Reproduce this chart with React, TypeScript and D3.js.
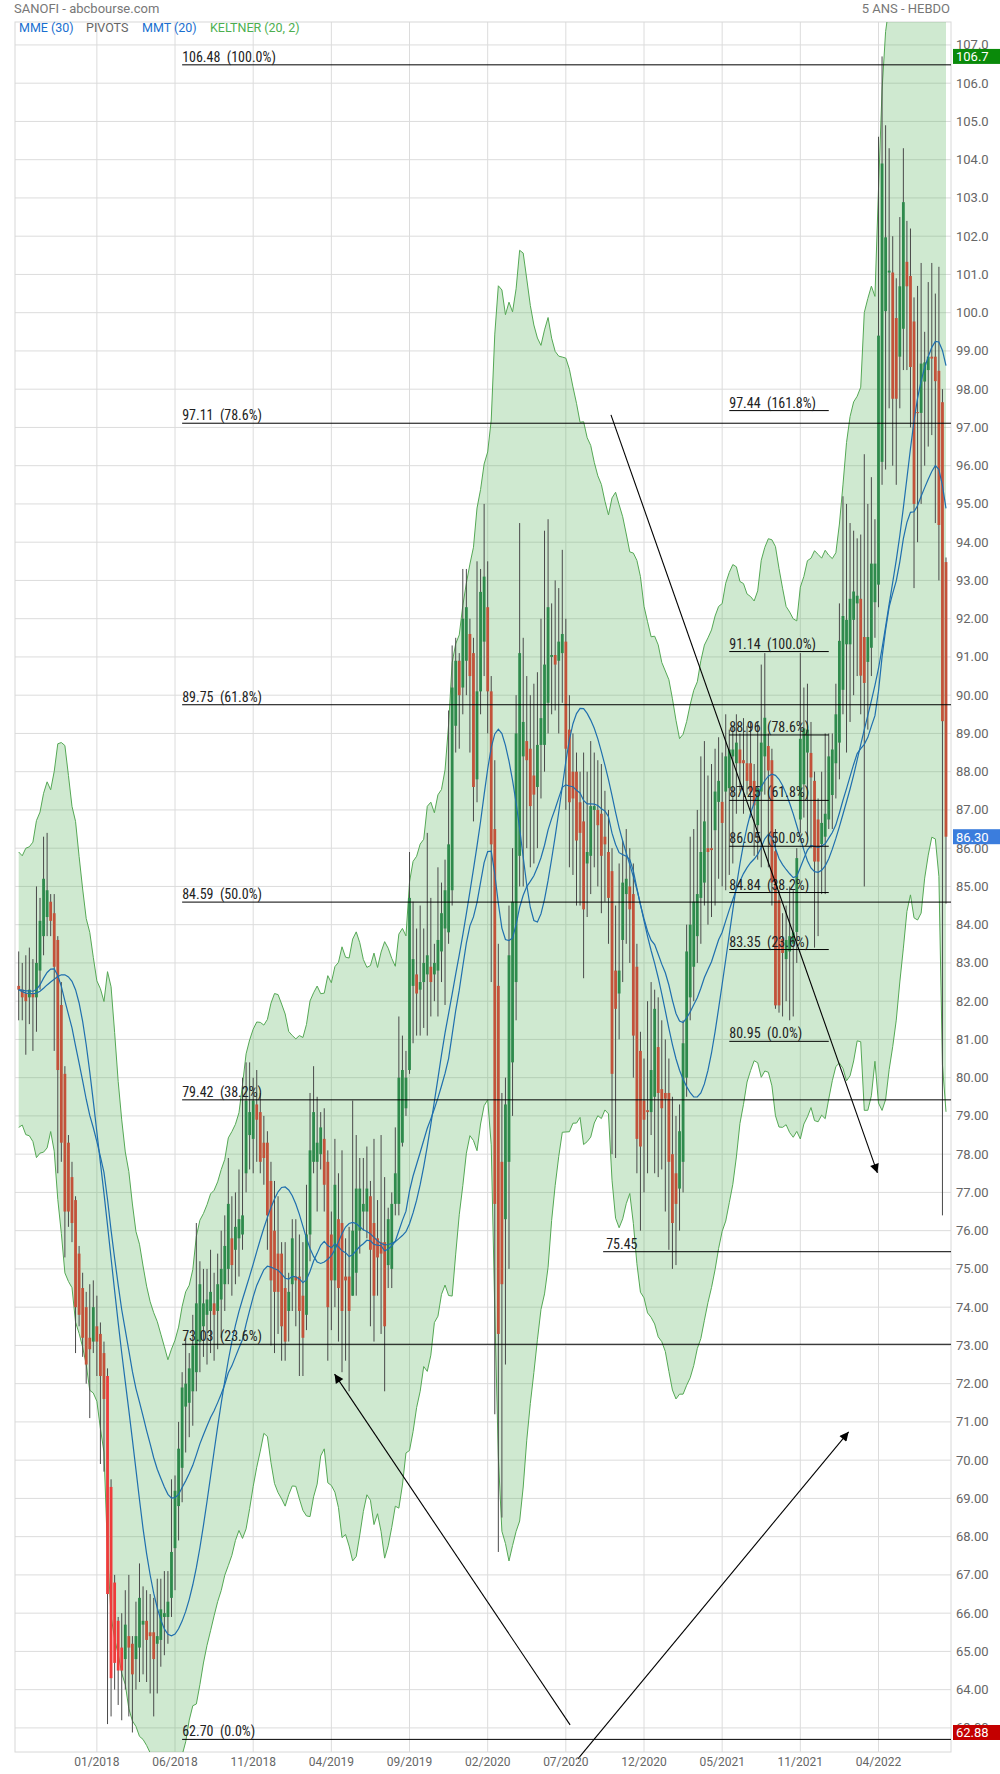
import React from 'react';
import * as d3 from 'd3';

const opens = [
82.4,82.3,82.2,82.1,82.2,82.1,82.8,83.7,84.2,84.6,
84.3,83.6,81.9,80.1,78.3,77.4,76.8,75.4,74.5,74.0,
73.2,73.1,73.5,73.3,72.8,72.2,69.3,66.8,65.8,65.1,
64.8,65.4,65.2,64.8,65.1,65.7,65.8,65.5,65.5,65.2,
65.3,65.9,65.9,66.4,67.7,68.8,69.8,71.4,71.5,71.8,
72.3,73.1,73.5,73.8,73.9,74.1,73.9,74.2,74.6,75.0,
75.8,75.5,75.8,75.9,77.5,78.5,78.4,79.3,79.1,78.3,
78.3,77.3,76.0,75.4,75.4,74.5,73.9,74.6,74.8,74.8,
74.3,73.8,75.9,77.8,77.8,78.0,78.4,77.8,75.9,74.7,
76.3,76.2,74.8,74.8,74.3,74.9,76.0,76.5,76.5,76.9,
76.2,75.8,75.7,75.7,75.1,75.0,76.7,76.7,78.3,79.2,
80.2,82.4,82.7,82.3,82.5,82.7,82.9,82.7,82.8,83.3,
83.9,83.8,84.9,89.2,90.9,90.2,90.9,91.6,91.1,87.8,
90.1,91.4,92.3,90.1,86.5,82.4,77.8,76.3,77.8,80.4,
82.5,85.8,88.4,88.8,88.6,87.9,87.6,88.7,88.7,89.8,
91.0,91.05,90.9,91.1,91.4,89.1,88.0,88.0,87.2,86.7,
85.6,85.8,87.0,87.0,86.9,86.3,85.9,85.4,82.8,82.2,
83.6,84.8,85.0,84.8,82.9,80.7,79.4,79.15,79.1,79.5,
80.8,79.7,79.6,79.6,78.0,77.5,77.1,77.8,80.0,82.1,
82.9,83.7,84.7,85.1,86.0,86.0,86.47,87.21,87.21,87.48,
87.57,88.4,88.22,88.58,88.3,88.22,88.22,87.76,86.6,87.48,
88.4,88.67,88.3,85.92,84.64,83.63,83.1,83.3,83.5,83.81,
86.75,87.67,88.5,88.49,87.76,86.75,86.11,86.3,86.75,87.39,
88.22,88.76,90.14,91.33,91.33,91.97,92.4,92.52,91.52,90.87,
91.24,92.43,92.89,96.1,100.04,101.05,101.05,99.86,98.85,99.58,
101.33,100.96,99.77,97.4,97.38,98.2,98.5,98.85,98.85,98.48,
97.66,93.48];

const highs = [
83.3,83.0,83.2,83.4,83.1,85.0,84.7,86.3,86.4,84.8,
84.8,83.7,82.5,80.3,78.5,77.8,76.9,75.6,74.9,74.4,
74.6,74.7,74.3,73.6,73.1,72.4,69.5,67.0,65.9,66.0,
66.6,67.0,65.4,66.3,67.3,66.7,66.6,66.5,66.4,66.9,
66.9,67.1,67.1,69.5,69.6,71.0,72.3,73.2,72.8,73.8,
76.2,75.2,75.0,75.0,75.5,74.9,75.4,76.0,76.4,77.9,
76.9,77.0,77.6,80.0,80.4,80.4,80.0,80.2,79.6,79.0,
78.6,77.8,77.3,76.9,75.7,75.7,74.9,76.3,76.3,75.9,
75.7,77.2,79.6,80.3,79.5,79.1,79.2,78.1,76.5,78.4,
77.5,78.1,75.8,76.1,79.4,78.5,77.9,77.9,78.2,77.3,
78.4,76.8,78.5,77.4,76.6,77.0,78.7,81.6,81.1,80.7,
85.9,84.6,83.9,84.5,83.9,86.4,84.7,83.5,85.5,85.1,
85.7,89.6,91.3,91.5,91.1,93.3,93.3,92.0,91.5,93.5,
93.3,95.0,93.5,90.5,88.3,83.5,79.6,80.0,84.5,86.0,
90.0,94.5,91.5,90.5,90.0,90.3,90.6,92.0,94.3,94.6,
92.4,93.0,92.8,93.8,92.0,90.0,89.0,88.5,88.0,88.5,
88.0,88.8,88.5,88.3,88.2,87.5,87.0,86.0,84.5,85.6,
86.2,86.5,86.0,85.6,83.5,81.2,80.5,82.0,82.5,82.3,
82.1,81.5,81.0,80.5,79.5,79.0,79.3,81.5,84.0,86.3,
86.5,87.0,88.4,88.8,87.9,88.2,88.6,88.9,88.5,89.5,
89.1,89.2,89.5,89.0,89.4,89.2,89.3,88.2,89.3,90.8,
91.1,89.0,88.6,86.5,84.9,84.3,84.5,85.0,84.9,86.0,
91.1,90.2,90.3,89.3,88.0,87.3,88.0,89.0,89.0,89.0,
90.3,92.4,95.2,95.0,94.5,94.3,94.1,94.2,96.3,95.0,
95.7,94.6,104.6,106.7,104.9,104.3,102.0,100.9,102.5,104.3,
102.4,102.2,100.4,100.7,101.3,99.5,100.8,101.3,100.5,101.2,
98.0,93.6];

const lows = [
81.5,81.5,80.6,81.4,80.7,81.2,82.3,83.2,83.7,83.7,
80.7,77.5,77.8,75.3,76.1,75.7,72.8,73.5,72.7,72.0,
71.1,72.8,72.2,69.9,69.7,63.1,63.3,64.0,63.6,63.2,
64.0,63.3,62.88,64.0,64.2,64.4,64.2,63.9,63.3,63.9,
64.6,64.9,65.2,65.9,66.6,67.9,68.9,70.2,70.6,70.9,
71.8,72.3,72.7,72.5,72.8,72.6,72.9,73.2,73.9,74.6,
74.3,74.6,74.8,75.5,77.0,77.6,77.5,77.8,77.5,77.2,
75.5,73.0,72.8,73.3,72.6,72.6,73.1,73.9,73.5,72.2,
72.2,73.4,75.2,77.5,76.5,77.6,76.5,72.6,73.4,74.0,
73.1,72.3,72.6,71.8,74.3,74.3,75.4,76.0,75.8,73.5,
73.1,74.3,73.3,71.8,74.5,74.5,76.4,76.4,78.2,79.0,
80.1,80.9,81.1,81.1,81.3,81.1,81.6,82.0,81.6,82.5,
81.9,83.5,84.5,88.5,88.6,89.5,90.0,88.5,86.7,87.2,
89.5,90.5,89.0,82.5,71.2,67.6,68.5,72.5,75.0,79.0,
81.5,85.0,85.0,86.0,85.5,85.6,86.0,87.3,88.0,89.0,
89.5,89.6,89.0,89.8,87.0,85.5,85.3,84.5,84.5,82.6,
84.2,84.8,85.5,85.0,84.3,84.6,83.5,78.0,77.9,81.0,
82.5,83.5,83.0,80.0,77.5,76.0,77.0,77.5,78.5,77.5,
77.4,77.6,76.5,75.5,75.0,75.1,76.0,77.0,79.5,81.5,
82.0,83.0,83.5,84.5,84.0,84.2,84.5,85.2,85.0,84.9,
85.3,85.6,86.9,87.5,86.9,87.4,86.8,85.8,85.7,85.5,
87.4,85.5,84.5,81.8,81.7,81.6,82.0,81.5,81.6,83.0,
86.4,86.8,86.3,86.0,83.4,83.7,84.8,84.8,86.5,86.5,
87.3,87.8,89.5,88.5,89.3,90.0,90.5,89.5,85.0,89.1,
90.5,91.5,92.3,95.5,95.9,97.5,96.0,95.5,97.5,98.5,
98.5,97.0,92.8,94.0,95.0,96.0,96.5,96.8,94.5,93.0,
76.4,84.55];

const closes = [
82.3,82.1,82.0,82.3,82.1,83.0,84.1,85.2,84.9,84.1,
82.9,80.2,78.3,76.5,76.5,76.2,74.0,73.8,73.2,72.5,
72.9,74.0,73.1,72.2,71.6,66.5,64.3,64.7,64.5,64.5,
65.7,65.1,64.4,65.4,66.4,65.8,65.3,65.4,64.8,65.4,
66.1,66.0,66.3,67.6,69.2,70.3,71.9,72.0,72.4,73.0,
74.1,74.6,74.1,74.2,74.4,73.8,74.6,75.0,75.6,76.7,
75.1,76.1,76.3,76.4,79.4,79.1,79.4,78.9,77.8,77.9,
76.4,74.7,74.4,74.4,73.5,73.1,74.4,75.8,74.7,73.9,
73.2,75.9,78.1,79.1,78.3,78.7,77.2,74.0,74.7,77.2,
74.5,73.9,74.7,73.9,76.0,77.1,77.1,76.7,77.1,75.5,
74.3,75.3,75.4,73.5,76.3,76.7,77.5,80.0,80.2,80.0,
84.7,83.1,82.2,82.5,83.0,83.2,82.5,83.0,83.6,84.3,
84.9,86.1,90.2,90.9,90.0,92.0,92.3,90.5,87.6,90.1,
92.7,93.1,90.1,86.1,76.7,73.3,74.6,79.3,83.2,84.6,
89.0,91.1,89.3,88.3,87.1,87.4,88.7,89.4,90.8,92.3,
91.05,90.8,91.4,91.6,88.6,87.2,87.3,86.2,86.4,84.4,
85.9,87.1,87.1,86.6,85.8,86.1,84.7,80.1,81.8,82.8,
85.1,85.2,84.4,81.1,78.4,78.2,78.9,79.1,80.2,81.8,
79.6,79.2,79.45,77.8,76.2,76.7,78.6,80.9,83.3,84.0,
84.6,84.8,85.9,86.7,85.9,85.95,87.48,87.76,86.66,88.4,
88.58,88.58,88.76,88.22,88.22,87.76,87.48,87.12,87.57,88.76,
89.41,88.03,85.1,81.89,81.89,83.26,83.6,83.7,83.8,85.74,
88.86,89.13,89.1,87.85,85.65,85.65,86.66,86.9,88.4,88.58,
89.5,91.42,92.07,91.97,92.52,92.71,92.6,90.51,90.32,91.52,
93.44,93.44,99.4,103.9,101.97,101.1,97.75,97.75,100.69,102.89,
100.69,98.58,95.0,97.38,98.67,98.7,98.85,98.8,98.21,94.45,
89.32,86.3];

// weeks whose red body is drawn in the brighter red of the reference
const brightRedWeeks = [25, 26, 27, 28, 29];

const priceTicks = [63,64,65,66,67,68,69,70,71,72,73,74,75,76,77,78,79,80,81,82,83,84,85,86,87,88,89,90,91,92,93,94,95,96,97,98,99,100,101,102,103,104,105,106,107];
const dateTickIndex = [22,44,66,88,110,132,154,176,198,220,242];
const dateTickLabels = ['01/2018','06/2018','11/2018','04/2019','09/2019','02/2020','07/2020','12/2020','05/2021','11/2021','04/2022'];

const fibMainLevels = [106.48,97.11,89.75,84.59,79.42,73.03,62.70];
const fibMainPct = ['100.0%','78.6%','61.8%','50.0%','38.2%','23.6%','0.0%'];
const fibMainStart = 46;
const fibSecLevels = [97.44,91.14,88.96,87.25,86.05,84.84,83.35,80.95];
const fibSecPct = ['161.8%','100.0%','78.6%','61.8%','50.0%','38.2%','23.6%','0.0%'];
const fibSecStart = 200;
const fibSecEnd = 228;
const pivotLevel = 75.45;
const pivotStart = 164.5;

const arrowStartIdx = [166.7,155.2,157.4];
const arrowStartVal = [97.33,63.08,62.19];
const arrowEndIdx = [241.7,88.9,233.6];
const arrowEndVal = [77.51,72.25,70.74];

const PL = 15, PR = 951, PT = 22, PB = 1752;

function ema(arr: number[], n: number) {
  const k = 2 / (n + 1);
  const out: number[] = [];
  arr.forEach((v, i) => out.push(i === 0 ? v : v * k + out[i - 1] * (1 - k)));
  return out;
}
function sma(arr: number[], n: number) {
  return arr.map((_, i) => d3.mean(arr.slice(Math.max(0, i - n + 1), i + 1)) as number);
}

export default function App() {
  const N = closes.length;
  const x = d3.scaleLinear().domain([0, N - 1]).range([18.7, 946]);
  const y = d3.scaleLinear().domain([62.37, 107.6]).range([PB, PT]);

  // MME(30) = EMA 30, MMT(20) = triangular MA 20, Keltner(20,2) = EMA20 +/- 2*ATR
  const mme = ema(closes, 30);
  const mmt = sma(sma(closes, 10), 11);
  const tr = highs.map((h, i) => i === 0 ? h - lows[i] : Math.max(h, closes[i - 1]) - Math.min(lows[i], closes[i - 1]));
  const atr = ema(tr, 14);
  const mid = ema(closes, 20);
  const upper = mid.map((m, i) => m + 2 * atr[i]);
  const lower = mid.map((m, i) => m - 2 * atr[i]);
  const idx = d3.range(N);

  const area = d3.area<number>().x(i => x(i)).y0(i => y(lower[i])).y1(i => y(upper[i]))(idx) || '';
  const upLine = d3.line<number>().x(i => x(i)).y(i => y(upper[i]))(idx) || '';
  const loLine = d3.line<number>().x(i => x(i)).y(i => y(lower[i]))(idx) || '';
  const mmeLine = d3.line<number>().x(i => x(i)).y(i => y(mme[i]))(idx) || '';
  const mmtLine = d3.line<number>().x(i => x(i)).y(i => y(mmt[i]))(idx) || '';

  const maxH = d3.max(highs) as number;
  const minL = d3.min(lows) as number;
  const last = closes[N - 1];

  const axisFont = 'Roboto, "Liberation Sans", sans-serif';
  const narrow = '"Liberation Sans Narrow", "Roboto Condensed", "Liberation Sans", sans-serif';
  const green = '#2e8a4c';
  const red = '#c2523a';
  const brightRed = '#ee3b3b';

  const fmt = (v: number) => (v >= 100 ? v.toFixed(1) : v.toFixed(2));

  return (
    <div style={{ position: 'absolute', left: 0, top: 0, width: 1000, height: 1774, background: '#fff' }}>
      <svg width={1000} height={1774} viewBox="0 0 1000 1774" style={{ display: 'block' }}>
        <defs>
          <clipPath id="plot"><rect x={PL} y={PT} width={PR - PL} height={PB - PT} /></clipPath>
          <marker id="ah" viewBox="0 0 10 10" refX="10" refY="5" markerWidth="11" markerHeight="9" markerUnits="userSpaceOnUse" orient="auto">
            <path d="M0,0 L10,5 L0,10 z" fill="#000" />
          </marker>
        </defs>
        <rect x={0} y={0} width={1000} height={1774} fill="#fff" />
        <text x={14} y={13} fontFamily={axisFont} fontSize={13} fill="#777">SANOFI - abcbourse.com</text>
        <text x={950} y={13} fontFamily={axisFont} fontSize={13} fill="#777" textAnchor="end">5 ANS - HEBDO</text>

        {priceTicks.map(v => (
          <line key={'h' + v} x1={PL} x2={PR} y1={y(v)} y2={y(v)} stroke="#dcdcdc" strokeWidth={1} />
        ))}
        {dateTickIndex.map(i => (
          <line key={'v' + i} x1={x(i)} x2={x(i)} y1={PT} y2={PB} stroke="#dcdcdc" strokeWidth={1} />
        ))}
        <rect x={PL} y={PT} width={PR - PL} height={PB - PT} fill="none" stroke="#d8d8d8" strokeWidth={1} />

        <g clipPath="url(#plot)">
          <path d={area} fill="#4caf50" fillOpacity={0.27} />
          <path d={upLine} fill="none" stroke="#55a855" strokeWidth={1} />
          <path d={loLine} fill="none" stroke="#55a855" strokeWidth={1} />

          {idx.map(i => {
            const o = opens[i], c = closes[i];
            const up = c >= o;
            const top = y(Math.max(o, c));
            const h = Math.max(1, Math.abs(y(o) - y(c)));
            const fill = up ? green : (brightRedWeeks.includes(i) ? brightRed : red);
            return (
              <g key={'c' + i}>
                <line x1={x(i)} x2={x(i)} y1={y(highs[i])} y2={y(lows[i])} stroke="#4a4a4a" strokeWidth={1} />
                <rect x={x(i) - 1.4} y={top} width={2.8} height={h} fill={fill} />
              </g>
            );
          })}

          <path d={mmtLine} fill="none" stroke="#1f6fae" strokeWidth={1.2} />
          <path d={mmeLine} fill="none" stroke="#1f6fae" strokeWidth={1.2} />

          {fibMainLevels.map((v, k) => (
            <g key={'fm' + k}>
              <line x1={x(fibMainStart)} x2={PR} y1={y(v)} y2={y(v)} stroke="#000" strokeWidth={1} />
              <text x={x(fibMainStart)} y={y(v) - 3} fontFamily={narrow} fontSize={14} fill="#222" style={{ whiteSpace: 'pre' }}>{v.toFixed(2) + '  (' + fibMainPct[k] + ')'}</text>
            </g>
          ))}
          {fibSecLevels.map((v, k) => (
            <g key={'fs' + k}>
              <line x1={x(fibSecStart)} x2={x(fibSecEnd)} y1={y(v)} y2={y(v)} stroke="#000" strokeWidth={1} />
              <text x={x(fibSecStart)} y={y(v) - 3} fontFamily={narrow} fontSize={14} fill="#222" style={{ whiteSpace: 'pre' }}>{v.toFixed(2) + '  (' + fibSecPct[k] + ')'}</text>
            </g>
          ))}
          <line x1={x(pivotStart)} x2={PR} y1={y(pivotLevel)} y2={y(pivotLevel)} stroke="#000" strokeWidth={1} />
          <text x={x(pivotStart) + 3} y={y(pivotLevel) - 3} fontFamily={narrow} fontSize={14} fill="#222">{pivotLevel.toFixed(2)}</text>
        </g>

        {arrowStartIdx.map((s, k) => (
          <line key={'a' + k} x1={x(s)} y1={y(arrowStartVal[k])} x2={x(arrowEndIdx[k])} y2={y(arrowEndVal[k])} stroke="#000" strokeWidth={1.1} markerEnd="url(#ah)" />
        ))}

        <text y={32} fontFamily={axisFont} fontSize={12.5}>
          <tspan x={19} fill="#1a6fd0">MME (30)</tspan>
          <tspan x={86} fill="#666">PIVOTS</tspan>
          <tspan x={142} fill="#1a6fd0">MMT (20)</tspan>
          <tspan x={210} fill="#4caf50">KELTNER (20, 2)</tspan>
        </text>

        {priceTicks.map(v => (
          <text key={'t' + v} x={956} y={y(v) + 4.5} fontFamily={axisFont} fontSize={13} fill="#666">{fmt(v)}</text>
        ))}
        {[{ v: maxH, c: '#0a8a0a', t: maxH.toFixed(1) }, { v: last, c: '#3b7ddd', t: last.toFixed(2) }, { v: minL, c: '#c40000', t: minL.toFixed(2) }].map((b, k) => (
          <g key={'b' + k}>
            <rect x={953} y={y(b.v) - 7.5} width={47} height={15} fill={b.c} />
            <text x={956} y={y(b.v) + 5} fontFamily={axisFont} fontSize={13} fill="#fff">{b.t}</text>
          </g>
        ))}

        {dateTickIndex.map((i, k) => (
          <text key={'d' + i} x={x(i)} y={1766} fontFamily={axisFont} fontSize={12} fill="#666" textAnchor="middle">{dateTickLabels[k]}</text>
        ))}
      </svg>
    </div>
  );
}
